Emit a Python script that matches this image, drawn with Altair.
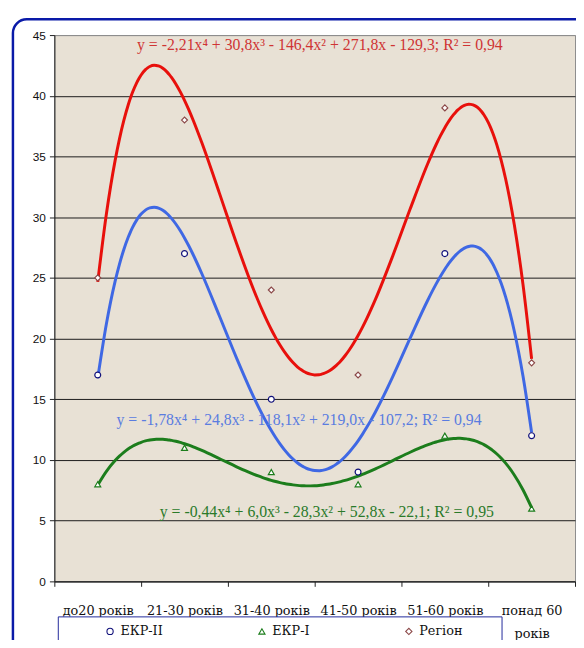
import json
import altair as alt
import pandas as pd

# ---------------- data ----------------
categories = ["до20 років", "21-30 років", "31-40 років", "41-50 років", "51-60 років", "понад 60 років"]
series_names = ["ЕКР-ІІ", "ЕКР-І", "Регіон"]
ekr2 = [17, 27, 15, 9, 27, 12]
ekr1 = [8, 11, 9, 8, 12, 6]
region = [25, 38, 24, 17, 39, 18]
y_ticks = [0, 5, 10, 15, 20, 25, 30, 35, 40, 45]
equations = [
    "y = -2,21x⁴ + 30,8x³ - 146,4x² + 271,8x - 129,3; R² = 0,94",
    "y = -1,78x⁴ + 24,8x³ - 118,1x² + 219,0x - 107,2; R² = 0,94",
    "y = -0,44x⁴ + 6,0x³ - 28,3x² + 52,8x - 22,1; R² = 0,95",
]

rows = []
for name, vals in zip(series_names, [ekr2, ekr1, region]):
    for i, (c, v) in enumerate(zip(categories, vals)):
        rows.append({"series": name, "x": i + 1, "category": c, "value": v})
df = pd.DataFrame(rows)

# ---------------- styles ----------------
line_colors = ["#3f68e4", "#1c7d1c", "#e8100c"]
marker_colors = ["#10107a", "#1c7d1c", "#8b4848"]
shapes = ["circle", "triangle-up", "diamond"]
eq_colors = ["#cf3434", "#5a7ce0", "#2a7a2a"]
CYR_SERIF = "DejaVu Serif"
SANS = "Liberation Sans"

# x axis labels (last one wraps onto two lines)
label_lines = []
for c in categories:
    if len(c) > 12:
        a, b = c.rsplit(" ", 1)
        label_lines.append([a, b])
    else:
        label_lines.append(c)
label_lines.append("")
x_label_expr = json.dumps(label_lines, ensure_ascii=False) + "[round(datum.value - 0.5)]"
x_tick_values = [0.5 + i for i in range(len(categories) + 1)]

x_enc = alt.X(
    "x:Q",
    scale=alt.Scale(domain=[0.5, len(categories) + 0.5], nice=False, zero=False),
    axis=alt.Axis(
        values=x_tick_values,
        labelExpr=x_label_expr,
        labelOffset=44,
        labelFont=CYR_SERIF,
        labelFontSize=13,
        labelColor="#111111",
        labelPadding=19,
        labelLineHeight=23,
        labelOverlap=False,
        labelFlush=False,
        labelBound=False,
        tickSize=5,
        tickColor="#222222",
        domainColor="#222222",
        grid=False,
        title=None,
    ),
    title=None,
)
y_enc = alt.Y(
    "value:Q",
    scale=alt.Scale(domain=[0, 45], nice=False),
    axis=alt.Axis(
        values=y_ticks,
        labelFont=SANS,
        labelFontSize=12,
        labelColor="#111111",
        labelPadding=4,
        tickSize=5,
        tickColor="#222222",
        domainColor="#222222",
        grid=True,
        gridColor={"condition": {"test": "datum.value === 45", "value": "#8c8c8c"}, "value": "#1a1a1a"},
        gridWidth=1,
        title=None,
    ),
    title=None,
)

legend = alt.Legend(
    title=None,
    orient="none",
    legendX=50,
    legendY=598,
    direction="horizontal",
    padding=0,
    columnPadding=94,
    labelFont=CYR_SERIF,
    labelFontSize=13,
    labelColor="#111111",
    symbolSize=40,
    symbolStrokeWidth=1.1,
    symbolFillColor="white",
)

# decorative frames: outer rounded chart border and the legend box
border = alt.Chart(pd.DataFrame({"a": [0]})).mark_rect(
    fill="white", fillOpacity=0, stroke="#0a1aa8", strokeWidth=2.5, cornerRadius=14
).encode(x=alt.value(-42), x2=alt.value(640), y=alt.value(-16), y2=alt.value(720))
legend_box = alt.Chart(pd.DataFrame({"a": [0]})).mark_rect(
    fill="white", stroke="#22299a", strokeWidth=1
).encode(x=alt.value(4), x2=alt.value(454), y=alt.value(590), y2=alt.value(680))

base = alt.Chart(df)

# one polynomial trend line (order 4) per series, fitted by Vega
trend_layers = []
for name, col in zip(series_names, line_colors):
    trend_layers.append(
        base.transform_filter(alt.datum.series == name)
        .transform_regression("x", "value", method="poly", order=4)
        .mark_line(strokeWidth=3, interpolate="monotone", color=col)
        .encode(x=x_enc, y=y_enc)
    )

points = base.mark_point(fill="white", fillOpacity=1, strokeWidth=1.2, size=36, opacity=1).encode(
    x=x_enc,
    y=y_enc,
    stroke=alt.Stroke("series:N", scale=alt.Scale(domain=series_names, range=marker_colors), legend=legend),
    shape=alt.Shape("series:N", scale=alt.Scale(domain=series_names, range=shapes), legend=legend),
)

eq_pos = [(3.56, 44.2), (3.32, 13.3), (3.64, 5.7)]
texts = []
for eq, col, (px, py) in zip(equations, eq_colors, eq_pos):
    texts.append(
        alt.Chart(pd.DataFrame({"t": [eq]})).mark_text(
            font="Liberation Serif", fontSize=16, color=col, align="center", baseline="middle"
        ).encode(x=alt.datum(px), y=alt.datum(py), text="t:N")
    )

chart = alt.layer(border, legend_box, *trend_layers, points, *texts).properties(
    width=528,
    height=554,
    autosize=alt.AutoSizeParams(type="none"),
    padding={"left": 47, "top": 23, "right": 1, "bottom": 55},
    background="white",
).configure_view(
    fill="#e8e1d5", stroke="#8c8c8c", strokeWidth=1
)

chart.save("out.html", embed_options={"renderer": "svg", "actions": False})
